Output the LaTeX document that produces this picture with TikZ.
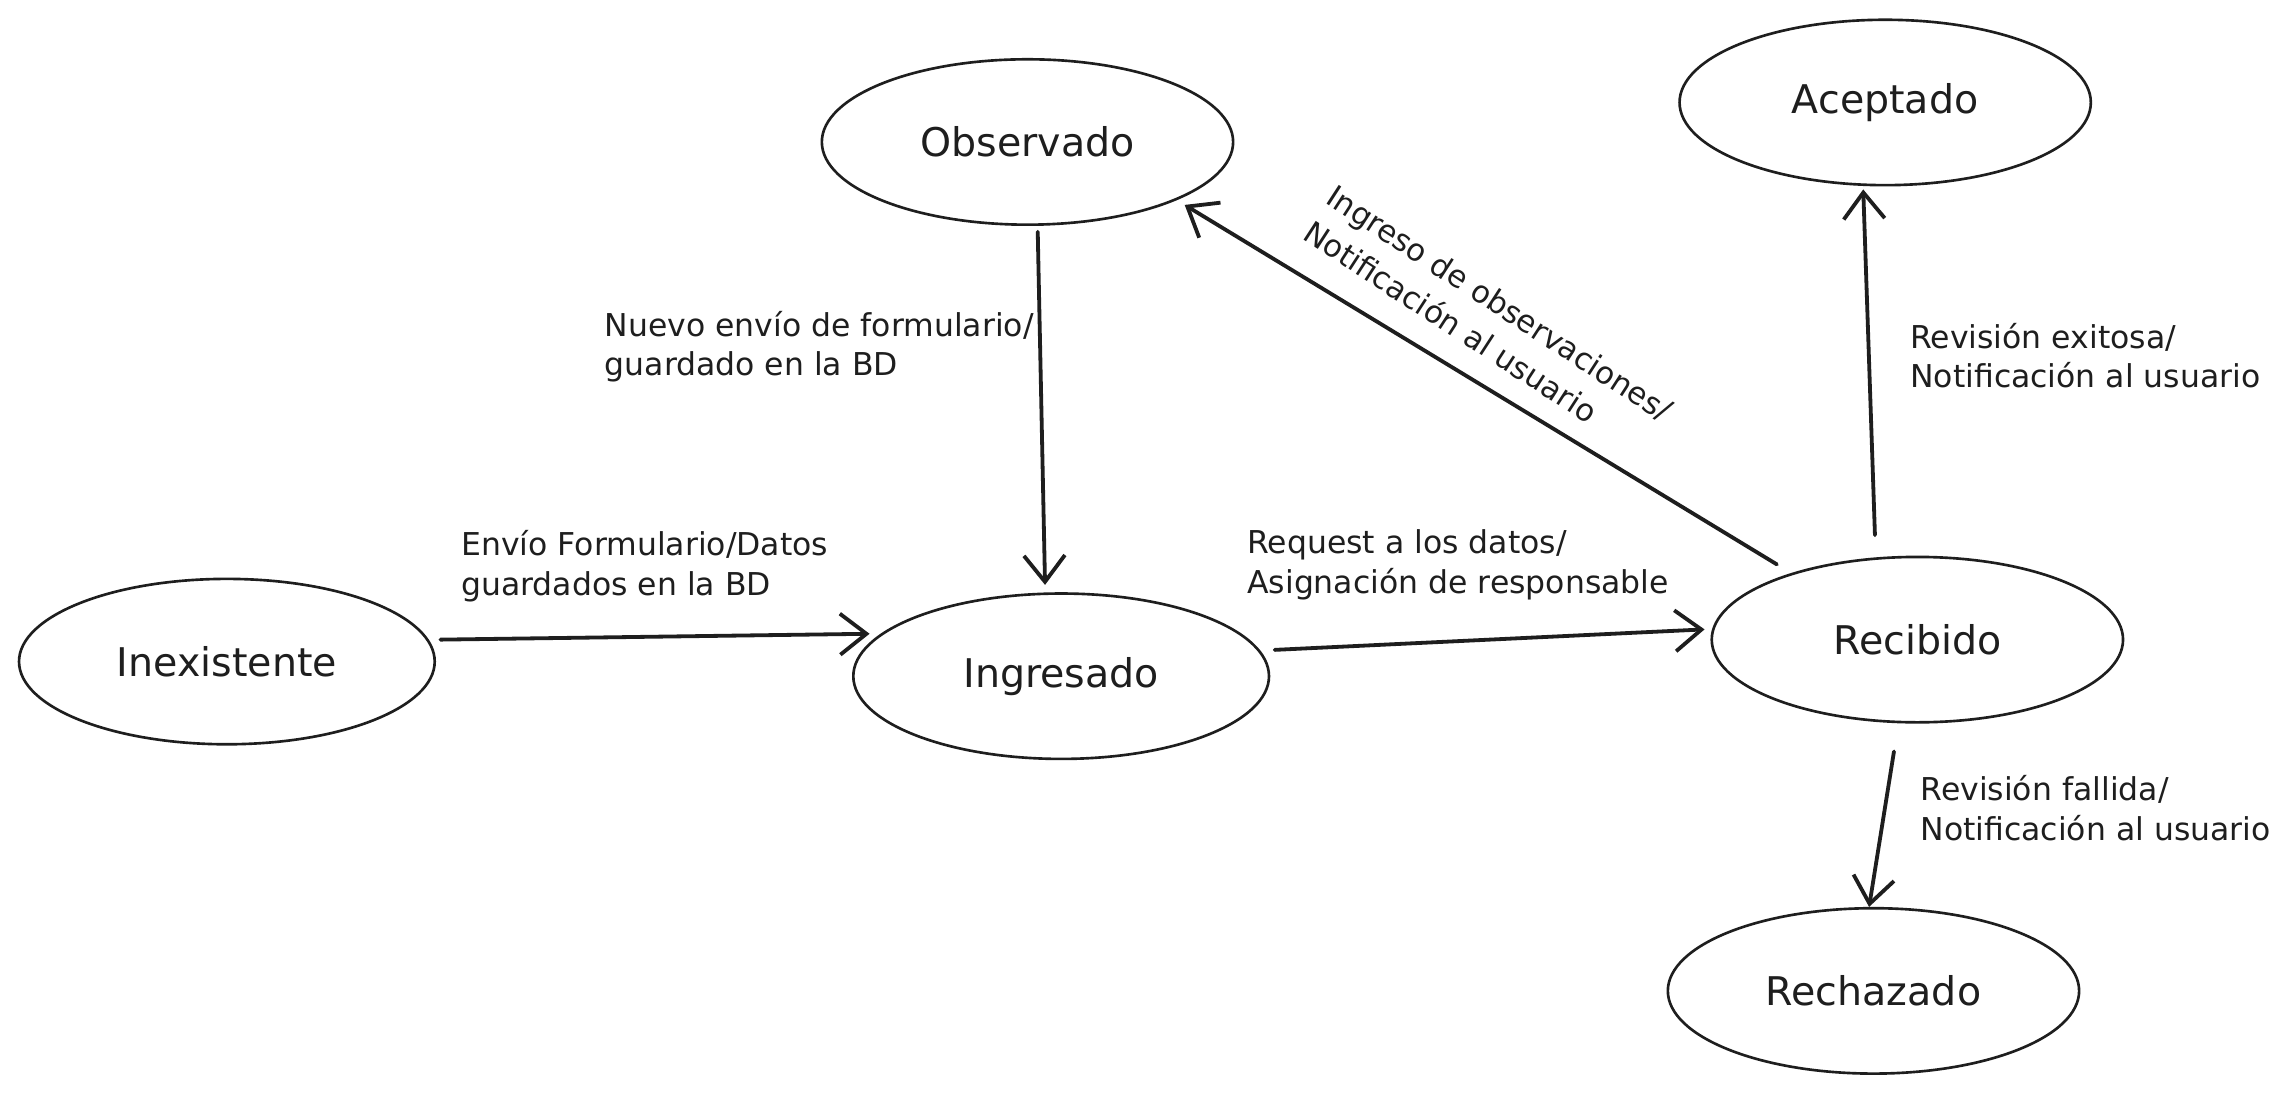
\documentclass[tikz,border=0pt]{standalone}
\usepackage{fontspec}
\setmainfont{DejaVu Sans}
\usetikzlibrary{shapes.geometric,arrows.meta}
\definecolor{ink}{HTML}{1E1E1E}
\begin{document}
\begin{tikzpicture}[x=1pt,y=1pt,
  state/.style={ellipse, draw=ink, line width=1.8pt, minimum width=281pt, minimum height=113pt, inner sep=0pt, font=\fontsize{27}{32}\selectfont, text=ink},
  trans/.style={draw=ink, line width=2.6pt, line cap=round, -{Straight Barb[length=18pt,width=28pt,line width=2.6pt]}},
  lbl/.style={align=left, font=\fontsize{21.5}{27}\selectfont, text=ink, inner sep=0pt}]
\useasboundingbox (0,0) rectangle (1568,-748);
\fill[white] (0,0) rectangle (1568,-748);

\node[state] (obs) at (702,-97) {Observado};
\node[state] (acep) at (1288,-70) {Aceptado};
\node[state, minimum width=284pt] (inex) at (155,-452) {Inexistente};
\node[state, minimum width=284pt] (ingr) at (725,-462) {Ingresado};
\node[state] (reci) at (1310,-437) {Recibido};
\node[state] (rech) at (1280,-677) {Rechazado};

\draw[trans] ([xshift=3pt,yshift=15pt]inex.east) -- ([xshift=12pt,yshift=29pt]ingr.west);
\draw[trans] ([xshift=7pt,yshift=-4pt]obs.south) -- ([xshift=-11pt,yshift=5pt]ingr.north);
\draw[trans] ([xshift=3pt,yshift=18pt]ingr.east) -- ([xshift=-4pt,yshift=7pt]reci.west);
\draw[trans] ([xshift=-96pt,yshift=-6pt]reci.north) -- ([xshift=-34pt,yshift=-43pt]obs.east);
\draw[trans] ([xshift=-29pt,yshift=14pt]reci.north) -- ([xshift=-15pt,yshift=-2pt]acep.south);
\draw[trans] ([xshift=-16pt,yshift=-19pt]reci.south) -- ([xshift=-3pt,yshift=0pt]rech.north);

\node[lbl, anchor=west] (t1) at (315,-387) {Envío Formulario/Datos\\guardados en la BD};
\node[lbl, anchor=west] (t2) at (413,-237) {Nuevo envío de formulario/\\guardado en la BD};
\node[lbl, anchor=west] (t3) at (852,-386) {Request a los datos/\\Asignación de responsable};
\node[lbl, anchor=west] (t4) at (1305,-243) {Revisión exitosa/\\Notificación al usuario};
\node[lbl, anchor=west] (t5) at (1312,-552) {Revisión fallida/\\Notificación al usuario};
\node[lbl, anchor=west, rotate=-33, font=\fontsize{21}{29}\selectfont] (t6) at (901,-144) {Ingreso de observaciones/\\Notificación al usuario};
\end{tikzpicture}
\end{document}
